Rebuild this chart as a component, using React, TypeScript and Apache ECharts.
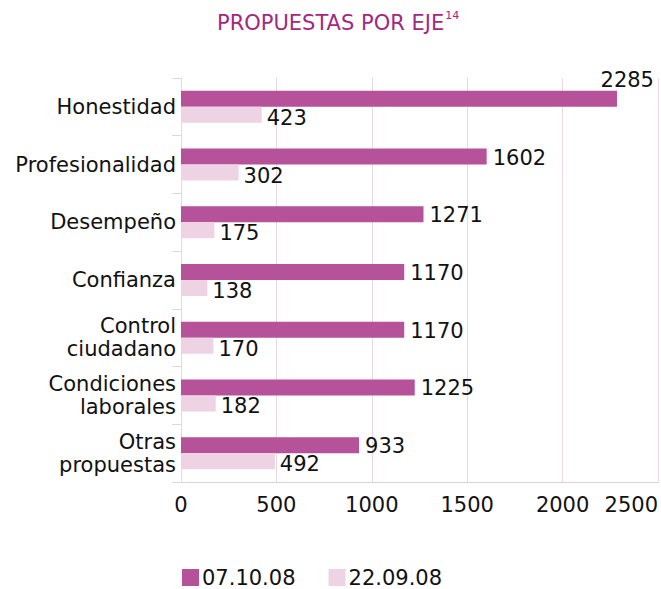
import React, { useEffect, useRef } from "react";
import * as echarts from "echarts";

const categories = [
  "Honestidad",
  "Profesionalidad",
  "Desempeño",
  "Confianza",
  "Control\nciudadano",
  "Condiciones\nlaborales",
  "Otras\npropuestas",
];
const seriesOct = [2285, 1602, 1271, 1170, 1170, 1225, 933];
const seriesSep = [423, 302, 175, 138, 170, 182, 492];
const legendNames = ["07.10.08", "22.09.08"];
const xTicks = { min: 0, max: 2500, interval: 500 };

const FONT = "DejaVu Sans";

export default function App() {
  const ref = useRef<HTMLDivElement>(null);
  useEffect(() => {
    document.body.style.margin = "0";
    const chart = echarts.init(ref.current!, null, { renderer: "svg" });
    chart.setOption({
      animation: false,
      backgroundColor: "#ffffff",
      textStyle: { fontFamily: FONT },
      title: {
        left: 212,
        top: 5,
        text: "{a|PROPUESTAS POR EJE}{s|14}",
        textStyle: {
          fontWeight: "normal",
          rich: {
            a: { fontFamily: FONT, fontSize: 21, fontWeight: "normal", color: "#A3287E", lineHeight: 26 },
            s: { fontFamily: FONT, fontSize: 11, fontWeight: "normal", color: "#A3287E", lineHeight: 26, verticalAlign: "top", padding: [0, 0, 10, 1] },
          },
        },
      },
      legend: {
        left: 182,
        top: 567,
        padding: 0,
        itemWidth: 17,
        itemHeight: 17,
        itemGap: 33,
        icon: "rect",
        data: legendNames,
        textStyle: { fontFamily: FONT, fontSize: 21, color: "#111", padding: [0, 0, 0, -2] },
      },
      grid: { left: 181, right: 0, top: 78, bottom: 107, containLabel: false },
      xAxis: {
        type: "value",
        min: xTicks.min,
        max: xTicks.max,
        interval: xTicks.interval,
        axisLine: { show: true, lineStyle: { color: "#e3cfdb" } },
        axisTick: { show: false },
        splitLine: { show: true, lineStyle: { color: "#ecd8e4", width: 1 } },
        axisLabel: {
          fontFamily: FONT,
          fontSize: 21,
          color: "#111",
          margin: 12,
          alignMaxLabel: "right",
          formatter: (v: number) => String(v),
        },
      },
      yAxis: {
        type: "category",
        inverse: true,
        data: categories,
        axisLine: { show: true, lineStyle: { color: "#ead6e2" } },
        axisTick: { show: true, length: 9, lineStyle: { color: "#d9d9d9" } },
        axisLabel: {
          fontFamily: FONT,
          fontSize: 21,
          color: "#111",
          lineHeight: 23,
          margin: 5,
        },
      },
      series: [
        {
          name: legendNames[0],
          type: "bar",
          data: seriesOct.map((v, i) =>
            i === 0
              ? { value: v, label: { position: "insideTopRight", offset: [43, -27] } }
              : v
          ),
          barWidth: 16,
          barGap: "0%",
          itemStyle: { color: "#B5529A" },
          label: {
            show: true,
            position: "right",
            distance: 6,
            fontFamily: FONT,
            fontSize: 21,
            color: "#111",
            offset: [0, 1],
          },
        },
        {
          name: legendNames[1],
          type: "bar",
          data: seriesSep,
          barWidth: 16,
          barGap: "0%",
          itemStyle: { color: "#EED3E4" },
          label: {
            show: true,
            position: "right",
            distance: 5,
            fontFamily: FONT,
            fontSize: 21,
            color: "#111",
            offset: [0, 3],
          },
        },
      ],
    });
    return () => chart.dispose();
  }, []);
  return <div ref={ref} style={{ width: 661, height: 589 }} />;
}
